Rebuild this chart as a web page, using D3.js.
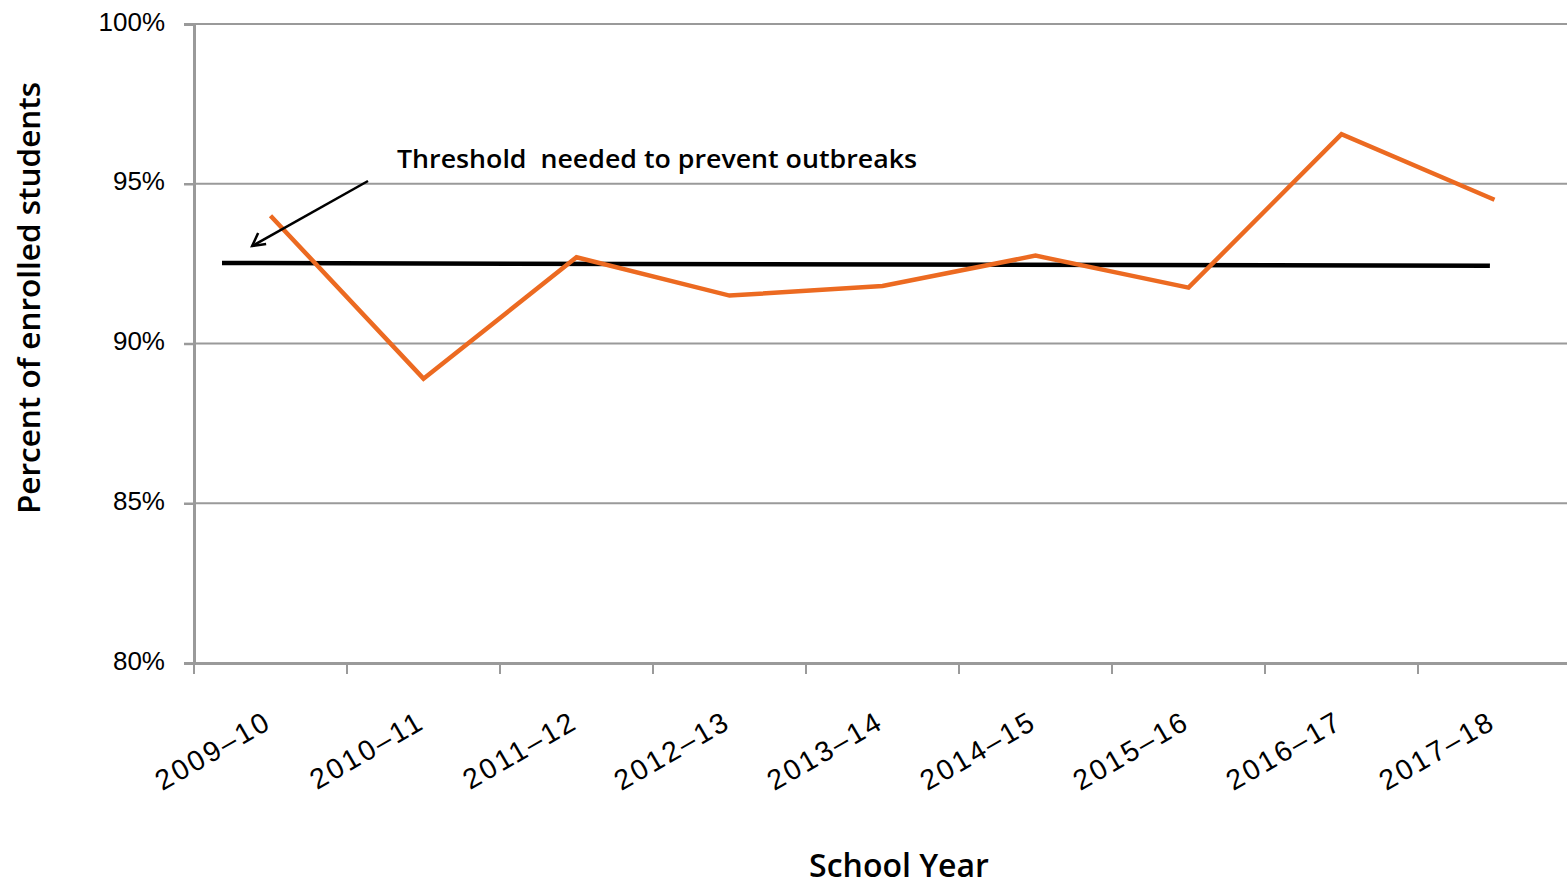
<!DOCTYPE html>
<html>
<head>
<meta charset="utf-8">
<script src="https://cdn.jsdelivr.net/npm/d3@7"></script>
<style>
  body { margin: 0; background: #fff; }
  svg { display: block; }
</style>
</head>
<body>
<div class="chart"></div>
<script>
// data
const years = ["2009–10", "2010–11", "2011–12", "2012–13", "2013–14", "2014–15", "2015–16", "2016–17", "2017–18"]
const coverage = [94.0, 88.9, 92.7, 91.5, 91.8, 92.75, 91.75, 96.55, 94.5]
const yTicks = [80, 85, 90, 95, 100]
// threshold line: category position (index) and value at both ends
const thresholdPos = [-0.317, 7.97]
const thresholdVal = [92.52, 92.43]
const noteText = "Threshold  needed to prevent outbreaks"

const W = 1567, H = 886
const margin = {top: 24, right: -4, bottom: 223, left: 194}
const width = W - margin.left - margin.right,
    height = H - margin.top - margin.bottom

const svg = d3.select(".chart").append("svg")
    .attr("width", W)
    .attr("height", H)
  .append("g")
    .attr("transform", "translate(" + margin.left + "," + margin.top + ")")

const x = d3.scaleBand()
    .domain(years)
    .range([0, width])
    .padding(0)

// index -> pixel, centered on the bands
const xi = d3.scaleLinear()
    .domain([0, years.length - 1])
    .range([x(years[0]) + x.bandwidth() / 2, x(years[years.length - 1]) + x.bandwidth() / 2])

const y = d3.scaleLinear()
    .domain([80, 100])
    .range([height, 0])

// horizontal gridlines
svg.append("g")
    .selectAll("line")
    .data(yTicks.filter(d => d > 80))
    .enter().append("line")
    .attr("x1", 0)
    .attr("x2", width)
    .attr("y1", d => y(d))
    .attr("y2", d => y(d))
    .attr("stroke", "#9a9a9a")
    .attr("stroke-width", 2)

// y axis
const yAxis = svg.append("g")
    .call(d3.axisLeft(y).tickValues(yTicks).tickSize(10).tickPadding(19).tickFormat(d => d + "%"))
yAxis.select(".domain").attr("stroke", "#9a9a9a").attr("stroke-width", 3)
yAxis.selectAll(".tick line").attr("stroke", "#9a9a9a").attr("stroke-width", 2.5)
yAxis.selectAll(".tick text")
    .attr("fill", "#000")
    .attr("dy", "6")
    .style("font-family", "'Liberation Sans', Arial, sans-serif")
    .style("font-size", "26px")

// x axis: ticks on band edges
const xAxis = svg.append("g")
    .attr("transform", "translate(0," + height + ")")
    .call(d3.axisBottom(x).tickSize(0).tickFormat(""))
xAxis.select(".domain").attr("stroke", "#9a9a9a").attr("stroke-width", 3)

svg.append("g")
    .selectAll("line")
    .data(years)
    .enter().append("line")
    .attr("x1", d => x(d))
    .attr("x2", d => x(d))
    .attr("y1", height)
    .attr("y2", height + 11)
    .attr("stroke", "#9a9a9a")
    .attr("stroke-width", 2)

svg.append("g")
    .selectAll("text")
    .data(years)
    .enter().append("text")
    .attr("transform", d => "translate(" + (x(d) + x.bandwidth() / 2 + 3) + "," + (height + 64) + ") rotate(-30)")
    .attr("text-anchor", "end")
    .style("font-family", "'Liberation Sans', Arial, sans-serif")
    .style("font-size", "28.5px")
    .style("letter-spacing", "2.5px")
    .text(d => d)

// axis titles
svg.append("text")
    .attr("transform", "translate(" + (-154) + "," + (298 - margin.top) + ") rotate(-90)")
    .attr("text-anchor", "middle")
    .style("font-family", "'Open Sans', sans-serif")
    .style("font-weight", "600")
    .style("font-size", "31.5px")
    .text("Percent of enrolled students")

svg.append("text")
    .attr("x", 899 - margin.left)
    .attr("y", 877 - margin.top)
    .attr("text-anchor", "middle")
    .style("font-family", "'Open Sans', sans-serif")
    .style("font-weight", "600")
    .style("font-size", "32px")
    .text("School Year")

// threshold line
svg.append("line")
    .attr("x1", xi(thresholdPos[0]))
    .attr("x2", xi(thresholdPos[1]))
    .attr("y1", y(thresholdVal[0]))
    .attr("y2", y(thresholdVal[1]))
    .attr("stroke", "#000")
    .attr("stroke-width", 4.5)

// coverage line
const line = d3.line()
    .x((d, i) => xi(i))
    .y(d => y(d))

svg.append("path")
    .datum(coverage)
    .attr("fill", "none")
    .attr("stroke", "#ec6a21")
    .attr("stroke-width", 4.5)
    .attr("stroke-linejoin", "miter")
    .attr("d", line)

// annotation arrow
const tip = [xi(-0.12), y(93.05)]
svg.append("line")
    .attr("x1", 368 - margin.left)
    .attr("y1", 181 - margin.top)
    .attr("x2", tip[0])
    .attr("y2", tip[1])
    .attr("stroke", "#000")
    .attr("stroke-width", 2.5)

svg.append("path")
    .attr("d", "M" + (tip[0] + 14) + "," + (tip[1] - 2) + "L" + tip[0] + "," + tip[1] + "L" + (tip[0] + 6) + "," + (tip[1] - 13))
    .attr("fill", "none")
    .attr("stroke", "#000")
    .attr("stroke-width", 2.5)

svg.append("text")
    .attr("x", 397 - margin.left)
    .attr("y", 168 - margin.top)
    .attr("textLength", 520)
    .attr("lengthAdjust", "spacingAndGlyphs")
    .style("font-family", "'Open Sans', sans-serif")
    .style("font-weight", "600")
    .style("font-size", "25px")
    .style("white-space", "pre")
    .text(noteText)
</script>
</body>
</html>
